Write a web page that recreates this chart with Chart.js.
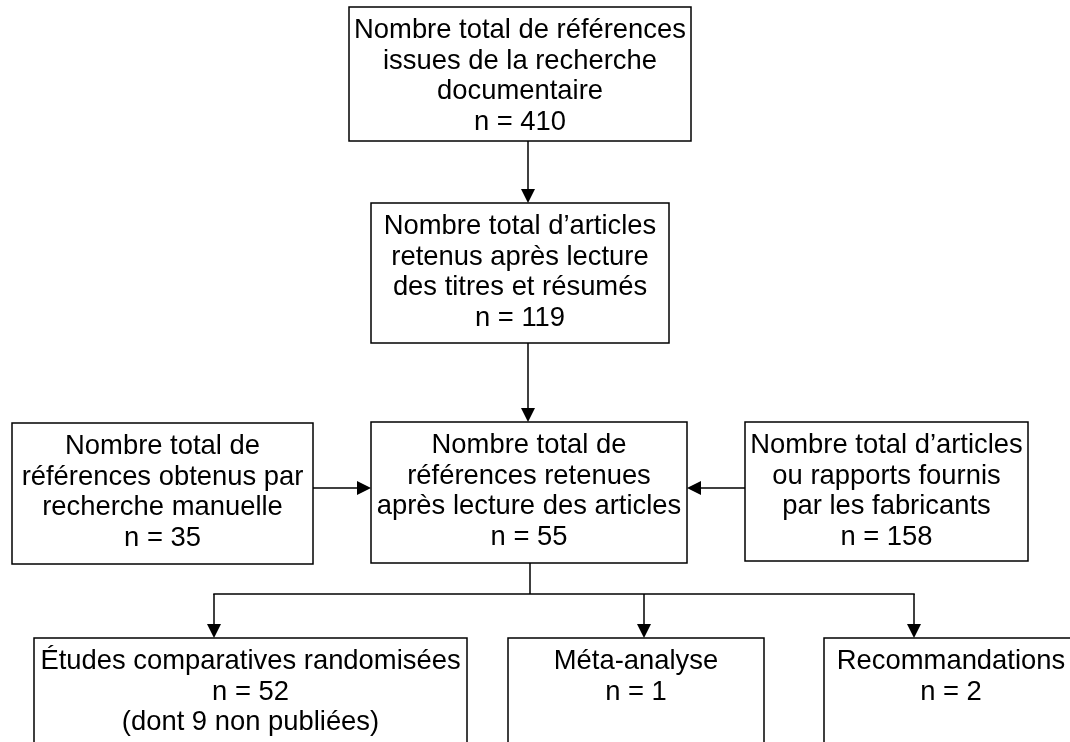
<!DOCTYPE html>
<html>
<head>
<meta charset="utf-8">
<script src="https://cdn.jsdelivr.net/npm/chart.js@4.4.1/dist/chart.umd.min.js"></script>
<style>
  html, body { margin: 0; padding: 0; background: #fff; }
  #wrap { width: 1070px; height: 742px; position: relative; }
</style>
</head>
<body>
<div id="wrap"><canvas id="flow"></canvas></div>
<script>
// ===== Data =====
const boxLabels = [
  ["Nombre total de références", "issues de la recherche", "documentaire"],
  ["Nombre total d’articles", "retenus après lecture", "des titres et résumés"],
  ["Nombre total de", "références retenues", "après lecture des articles"],
  ["Nombre total de", "références obtenus par", "recherche manuelle"],
  ["Nombre total d’articles", "ou rapports fournis", "par les fabricants"],
  ["Études comparatives randomisées"],
  ["Méta-analyse"],
  ["Recommandations"]
];
const boxCounts = [410, 119, 55, 35, 158, 52, 1, 2];
const boxNotes = ["", "", "", "", "", "(dont 9 non publiées)", "", ""];
// [from, to, direction]
const links = [[0, 1, "down"], [1, 2, "down"], [3, 2, "right"], [4, 2, "left"]];
const splitFrom = 2;
const splitTo = [5, 6, 7];

// ===== Layout (canvas units, mapped through the scales) =====
const boxPos = [
  [349, 7, 691, 141],
  [371, 203, 669, 343],
  [371, 422, 687, 563],
  [12, 423, 313, 564],
  [745, 422, 1028, 561],
  [34, 638, 467, 770],
  [508, 638, 764, 770],
  [824, 638, 1078, 770]
];
const linkAnchor = [528, 528, 488, 488];
const splitX = 530, busY = 594;
const branchX = [214, 644, 914];

const FONT = '27.4px "Liberation Sans", Arial, sans-serif';
const LINE_H = 30.5, FIRST_BASE = 31, HEAD = 14;

// ===== Drawing plugin =====
const flowPlugin = {
  id: "flow",
  afterDraw(chart) {
    const { ctx, scales: { x, y } } = chart;
    const px = v => x.getPixelForValue(v);
    const py = v => y.getPixelForValue(v);
    ctx.save();
    ctx.strokeStyle = "#000";
    ctx.fillStyle = "#000";
    ctx.lineWidth = 1.5;

    function line(x1, y1, x2, y2) {
      ctx.beginPath(); ctx.moveTo(x1, y1); ctx.lineTo(x2, y2); ctx.stroke();
    }
    function head(tx, ty, dir) {
      ctx.beginPath();
      ctx.moveTo(tx, ty);
      if (dir === "down") { ctx.lineTo(tx - HEAD / 2, ty - HEAD); ctx.lineTo(tx + HEAD / 2, ty - HEAD); }
      if (dir === "right") { ctx.lineTo(tx - HEAD, ty - HEAD / 2); ctx.lineTo(tx - HEAD, ty + HEAD / 2); }
      if (dir === "left") { ctx.lineTo(tx + HEAD, ty - HEAD / 2); ctx.lineTo(tx + HEAD, ty + HEAD / 2); }
      ctx.closePath(); ctx.fill();
    }

    // boxes + text
    ctx.font = FONT;
    ctx.textAlign = "center";
    ctx.textBaseline = "alphabetic";
    boxPos.forEach((b, i) => {
      const l = px(b[0]), t = py(b[1]), r = px(b[2]), btm = py(b[3]);
      ctx.strokeRect(l, t, r - l, btm - t);
      const lines = [...boxLabels[i], `n = ${boxCounts[i]}`, boxNotes[i]].filter(Boolean);
      lines.forEach((s, k) => ctx.fillText(s, (l + r) / 2, t + FIRST_BASE + k * LINE_H));
    });

    // simple links
    links.forEach(([a, b, dir], i) => {
      const A = boxPos[a], B = boxPos[b], c = linkAnchor[i];
      if (dir === "down") {
        line(px(c), py(A[3]), px(c), py(B[1]) - HEAD + 1);
        head(px(c), py(B[1]), "down");
      } else if (dir === "right") {
        line(px(A[2]), py(c), px(B[0]) - HEAD + 1, py(c));
        head(px(B[0]), py(c), "right");
      } else {
        line(px(A[0]), py(c), px(B[2]) + HEAD - 1, py(c));
        head(px(B[2]), py(c), "left");
      }
    });

    // split to the three bottom boxes
    line(px(splitX), py(boxPos[splitFrom][3]), px(splitX), py(busY));
    line(px(Math.min(...branchX)) - 0.75, py(busY), px(Math.max(...branchX)) + 0.75, py(busY));
    splitTo.forEach((b, i) => {
      const bx = px(branchX[i]);
      line(bx, py(busY), bx, py(boxPos[b][1]) - HEAD + 1);
      head(bx, py(boxPos[b][1]), "down");
    });
    ctx.restore();
  }
};

// ===== Chart =====
new Chart(document.getElementById("flow"), {
  type: "scatter",
  data: {
    datasets: [{
      data: boxCounts.map((n, i) => ({
        x: (boxPos[i][0] + boxPos[i][2]) / 2,
        y: (boxPos[i][1] + boxPos[i][3]) / 2,
        n
      })),
      pointRadius: 0
    }]
  },
  options: {
    responsive: true,
    maintainAspectRatio: false,
    animation: false,
    events: [],
    layout: { padding: 0 },
    plugins: { legend: { display: false }, tooltip: { enabled: false } },
    scales: {
      x: { type: "linear", min: 0, max: 1070, display: false },
      y: { type: "linear", min: 0, max: 742, reverse: true, display: false }
    }
  },
  plugins: [flowPlugin]
});
</script>
</body>
</html>
